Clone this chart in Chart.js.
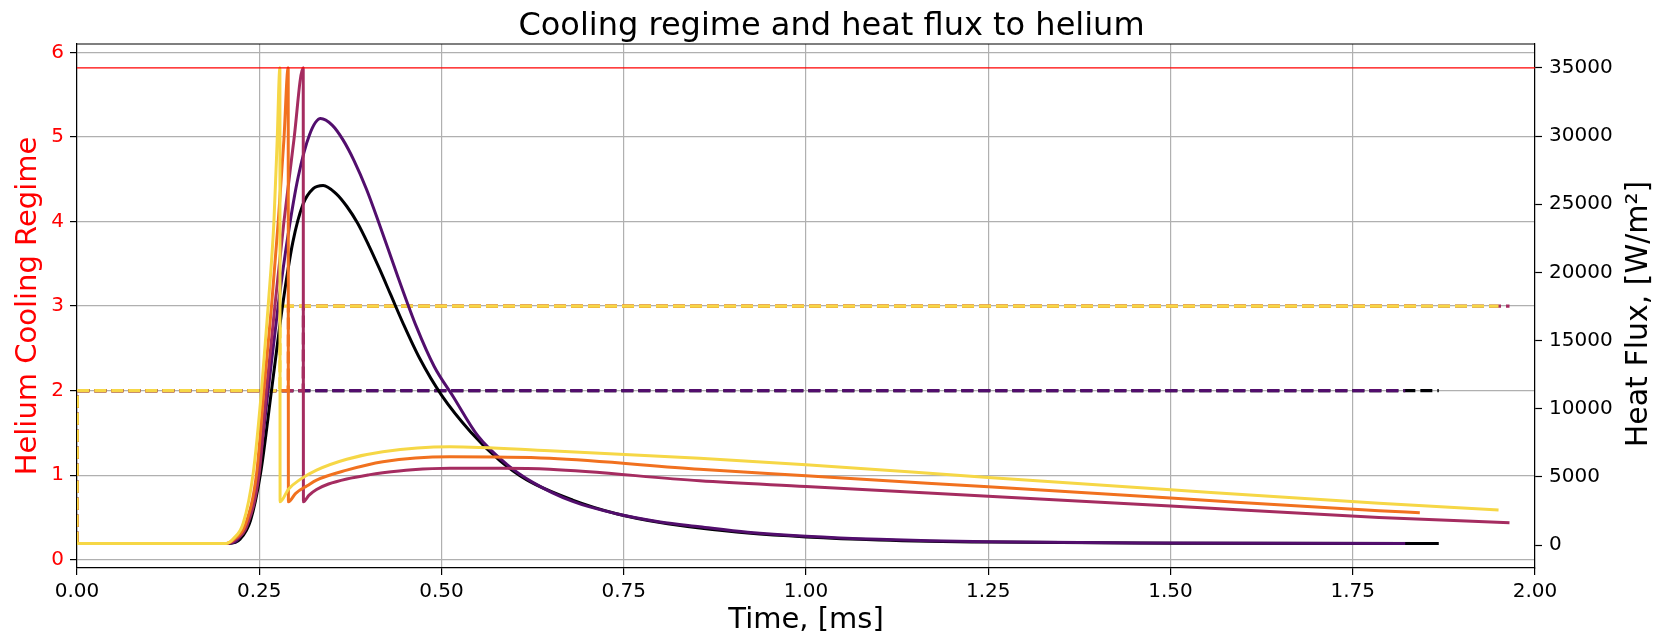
<!DOCTYPE html>
<html>
<head>
<meta charset="utf-8">
<script src="https://cdn.jsdelivr.net/npm/chart.js@4.4.1/dist/chart.umd.min.js"></script>
<style>
  html, body { margin: 0; padding: 0; background: #fff; }
</style>
</head>
<body>
<canvas id="regimeChart" width="1663" height="639"></canvas>
<script>
// heat flux to helium [W/m2] against time [ms], one curve per case
const tYellow = [0, 0.205, 0.215, 0.228, 0.2417, 0.2532, 0.2623, 0.2701, 0.2746, 0.2783, 0.2786, 0.29, 0.3057, 0.3286, 0.37, 0.4195, 0.5114, 0.6485, 0.8541, 1.0, 1.25, 1.5, 1.786, 1.95];
const qYellow = [125, 125, 500, 1600, 5260, 11380, 17570, 23690, 29700, 35000, 3180, 4100, 4800, 5500, 6300, 6850, 7220, 6920, 6370, 5900, 4950, 4050, 3060, 2570];

const tOrange = [0, 0.205, 0.216, 0.231, 0.2464, 0.2564, 0.2669, 0.276, 0.2838, 0.2897, 0.29, 0.30, 0.3157, 0.3286, 0.37, 0.4195, 0.5114, 0.6485, 0.8541, 1.0, 1.25, 1.5, 1.786, 1.842];
const qOrange = [125, 125, 450, 1500, 5260, 11380, 17570, 23690, 29700, 35000, 3180, 3800, 4350, 4770, 5500, 6120, 6480, 6370, 5560, 5090, 4270, 3450, 2520, 2370];

const tMagenta = [0, 0.206, 0.218, 0.233, 0.2499, 0.26, 0.2715, 0.2838, 0.2975, 0.3103, 0.3106, 0.318, 0.3286, 0.345, 0.37, 0.4, 0.4195, 0.46, 0.5114, 0.58, 0.6485, 0.8541, 1.0, 1.25, 1.5, 1.786, 1.965];
const qMagenta = [125, 125, 420, 1400, 5260, 11380, 17570, 23690, 29700, 35000, 3180, 3650, 4080, 4480, 4850, 5150, 5300, 5520, 5630, 5630, 5560, 4720, 4300, 3580, 2860, 2030, 1640];

const tPurple = [0, 0.207, 0.222, 0.235, 0.2486, 0.2623, 0.276, 0.2897, 0.3034, 0.319, 0.3341, 0.35, 0.3651, 0.38, 0.3971, 0.415, 0.44, 0.4657, 0.49, 0.5159, 0.55, 0.59, 0.6252, 0.68, 0.74, 0.8, 0.8541, 0.92, 1.0, 1.1, 1.25, 1.5, 1.822];
const qPurple = [125, 125, 500, 2000, 5260, 11380, 17570, 22800, 27000, 30100, 31280, 30800, 29700, 28200, 26100, 23500, 19700, 16000, 13100, 10900, 8000, 5900, 4600, 3200, 2300, 1700, 1350, 950, 650, 420, 240, 150, 125];

const tBlack = [0, 0.208, 0.224, 0.238, 0.2518, 0.2669, 0.282, 0.296, 0.31, 0.324, 0.3377, 0.355, 0.37, 0.385, 0.40, 0.415, 0.43, 0.447, 0.47, 0.5, 0.54, 0.58, 0.6165, 0.68, 0.74, 0.8, 0.8541, 0.92, 1.0, 1.1, 1.25, 1.5, 1.868];
const qBlack = [125, 125, 450, 1800, 5260, 11380, 17570, 22200, 25000, 26150, 26380, 25800, 24850, 23600, 22000, 20250, 18400, 16300, 13700, 11000, 8300, 6200, 4800, 3300, 2300, 1650, 1250, 880, 600, 380, 220, 140, 125];

// helium cooling regime (step values)
const tRegYellow = [0, 0.0005, 0.2783, 0.2786, 1.95];
const rYellow = [0.19, 2, 2, 3, 3];
const tRegOrange = [0, 0.0005, 0.2897, 0.29, 1.842];
const rOrange = [0.19, 2, 2, 3, 3];
const tRegMagenta = [0, 0.0005, 0.3103, 0.3106, 1.965];
const rMagenta = [0.19, 2, 2, 3, 3];
const tRegPurple = [0, 0.0005, 1.822];
const rPurple = [0.19, 2, 2];
const tRegBlack = [0, 0.0005, 1.868];
const rBlack = [0.19, 2, 2];

const fluxLimit = 35000;

const timeTicks = [0, 0.25, 0.5, 0.75, 1, 1.25, 1.5, 1.75, 2];
const regimeTicks = [0, 1, 2, 3, 4, 5, 6];
const fluxTicks = [0, 5000, 10000, 15000, 20000, 25000, 30000, 35000];

const FONT = 'DejaVu Sans';

function pts(ts, vs) {
  return ts.map((t, i) => ({ x: t, y: vs[i] }));
}

function fluxLine(ts, vs, color, order) {
  return {
    data: pts(ts, vs),
    borderColor: color,
    borderWidth: 3,
    pointRadius: 0,
    cubicInterpolationMode: 'monotone',
    borderJoinStyle: 'round',
    yAxisID: 'y1',
    order: order
  };
}

function regimeLine(ts, vs, color, order) {
  return {
    data: pts(ts, vs),
    borderColor: color,
    borderWidth: 3.2,
    borderDash: [12, 5],
    pointRadius: 0,
    tension: 0,
    clip: 0,
    yAxisID: 'y',
    order: order
  };
}

// top spine + right label (reads bottom to top like matplotlib)
const framePlugin = {
  id: 'frame',
  afterDraw(chart) {
    const { ctx, chartArea } = chart;
    ctx.save();
    ctx.strokeStyle = '#000';
    ctx.lineWidth = 1.2;
    ctx.beginPath();
    ctx.moveTo(chartArea.left, chartArea.top);
    ctx.lineTo(chartArea.right, chartArea.top);
    ctx.stroke();

    ctx.translate(chart.scales.y1.right - 24, (chartArea.top + chartArea.bottom) / 2 + 8);
    ctx.rotate(-Math.PI / 2);
    ctx.font = '30px "' + FONT + '"';
    ctx.fillStyle = '#000';
    ctx.textAlign = 'center';
    ctx.textBaseline = 'middle';
    ctx.fillText('Heat Flux, [W/m²]', 0, 0);
    ctx.restore();
  }
};

const ctx = document.getElementById('regimeChart');

new Chart(ctx, {
  type: 'line',
  data: {
    datasets: [
      {
        data: [{ x: 0, y: fluxLimit }, { x: 2, y: fluxLimit }],
        borderColor: '#ff0000',
        borderWidth: 1.4,
        pointRadius: 0,
        yAxisID: 'y1',
        order: 0
      },
      fluxLine(tYellow, qYellow, '#f6d746', 1),
      fluxLine(tOrange, qOrange, '#f1711f', 2),
      fluxLine(tMagenta, qMagenta, '#a52c60', 3),
      fluxLine(tPurple, qPurple, '#520e6d', 4),
      fluxLine(tBlack, qBlack, '#000004', 5),
      regimeLine(tRegYellow, rYellow, '#f6d746', 6),
      regimeLine(tRegOrange, rOrange, '#f1711f', 7),
      regimeLine(tRegMagenta, rMagenta, '#a52c60', 8),
      regimeLine(tRegPurple, rPurple, '#520e6d', 9),
      regimeLine(tRegBlack, rBlack, '#000004', 10)
    ]
  },
  options: {
    responsive: false,
    animation: false,
    layout: { padding: 0 },
    plugins: {
      legend: { display: false },
      tooltip: { enabled: false },
      title: {
        display: true,
        text: 'Cooling regime and heat flux to helium',
        color: '#000',
        font: { family: FONT, size: 32, weight: 'normal', lineHeight: 1.0 },
        padding: { top: 11, bottom: 1 }
      }
    },
    scales: {
      x: {
        type: 'linear',
        min: 0,
        max: 2,
        afterBuildTicks: s => { s.ticks = timeTicks.map(v => ({ value: v })); },
        afterFit: s => { s.height = 71; },
        ticks: {
          callback: v => v.toFixed(2),
          color: '#000',
          font: { family: FONT, size: 20 },
          padding: 5,
          maxRotation: 0,
          autoSkip: false
        },
        grid: { color: '#b0b0b0', lineWidth: 1.2, tickLength: 7, tickColor: '#000', tickWidth: 1.2 },
        border: { color: '#000', width: 1.2 },
        title: {
          display: true,
          text: 'Time, [ms]',
          color: '#000',
          font: { family: FONT, size: 29 },
          padding: { top: 0, bottom: 1 }
        }
      },
      y: {
        position: 'left',
        min: -0.098,
        max: 6.10,
        afterBuildTicks: s => { s.ticks = regimeTicks.map(v => ({ value: v })); },
        afterFit: s => { s.width = 77; },
        ticks: {
          callback: v => String(v),
          color: '#ff0000',
          font: { family: FONT, size: 20 },
          padding: 6
        },
        grid: { color: '#b0b0b0', lineWidth: 1.2, tickLength: 7, tickColor: '#000', tickWidth: 1.2 },
        border: { color: '#000', width: 1.2 },
        title: {
          display: true,
          text: 'Helium Cooling Regime',
          color: '#ff0000',
          font: { family: FONT, size: 29 },
          padding: { top: 11 }
        }
      },
      y1: {
        position: 'right',
        min: -1680,
        max: 36750,
        afterBuildTicks: s => { s.ticks = fluxTicks.map(v => ({ value: v })); },
        afterFit: s => { s.width = 128; },
        ticks: {
          callback: v => String(v),
          color: '#000',
          font: { family: FONT, size: 20 },
          padding: 7
        },
        grid: { drawOnChartArea: false, tickLength: 7, tickColor: '#000', tickWidth: 1.2 },
        border: { color: '#000', width: 1.2 }
      }
    }
  },
  plugins: [framePlugin]
});
</script>
</body>
</html>
